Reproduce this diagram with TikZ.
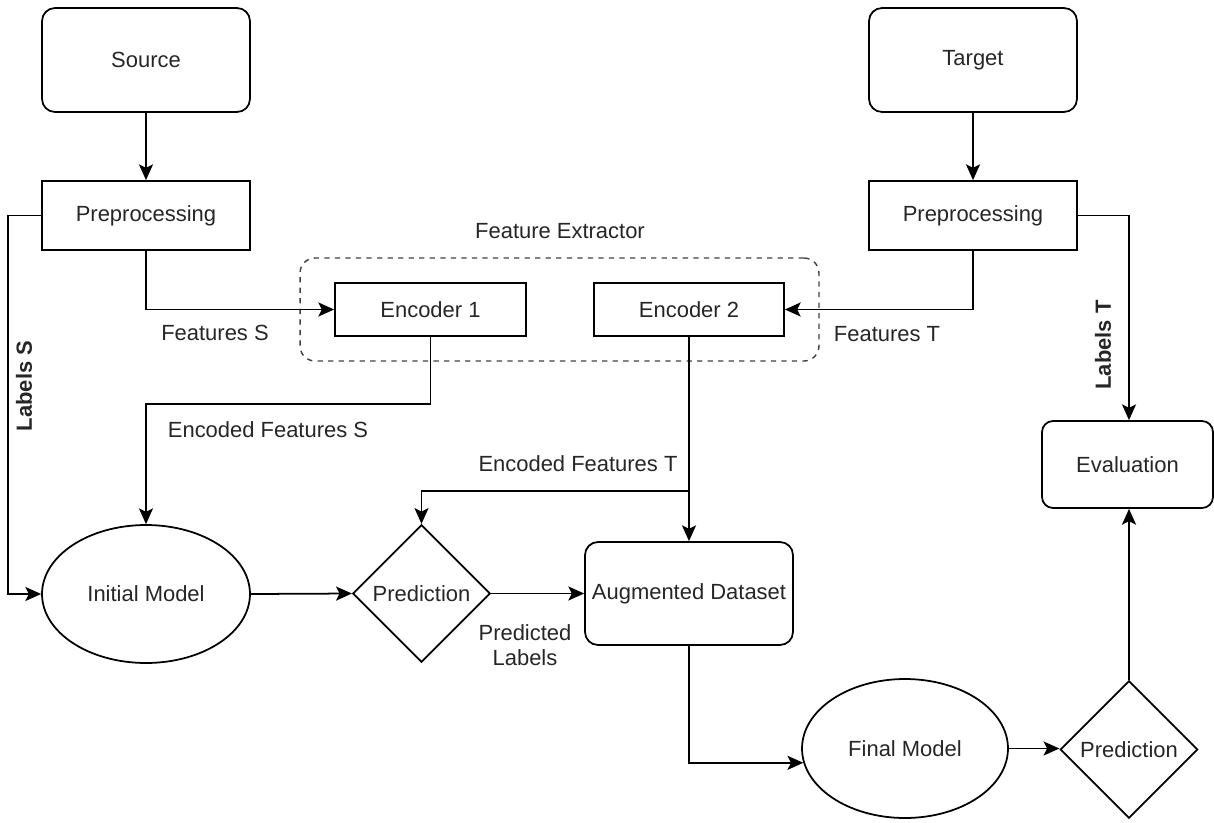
\documentclass[tikz,border=0pt]{standalone}
\usepackage{fontspec}
\setmainfont{Liberation Sans}
\usetikzlibrary{arrows.meta,shapes.geometric,calc}
\begin{document}
\begin{tikzpicture}[x=0.02cm,y=-0.02cm,
  every node/.style={font=\fontsize{12.5pt}{15pt}\selectfont, text=black!85, inner sep=1pt},
  rbox/.style={draw, line width=1pt, rounded corners=0.26cm, align=center},
  sbox/.style={draw, line width=1pt, align=center},
  ellnode/.style={draw, ellipse, line width=1pt, inner sep=0pt},
  dia/.style={draw, diamond, line width=1pt, inner sep=0pt, minimum width=2.75cm, minimum height=2.75cm},
  conn/.style={line width=1pt, -{Stealth[length=9pt,width=8pt,inset=2pt]}},
  lbl/.style={align=center},
  blbl/.style={font=\fontsize{12.5pt}{15pt}\selectfont\bfseries}
]
\useasboundingbox (0,0) rectangle (1214,822);

% nodes
\node[rbox, minimum width=4.16cm, minimum height=2.08cm] (src) at (146,60) {Source};
\node[rbox, minimum width=4.16cm, minimum height=2.08cm] (tgt) at (973,60) {Target};
\node[sbox, minimum width=4.16cm, minimum height=1.38cm] (preS) at (146,215.5) {Preprocessing};
\node[sbox, minimum width=4.16cm, minimum height=1.38cm] (preT) at (973,215.5) {Preprocessing};

\node[draw, dashed, line width=0.8pt, black!75, rounded corners=0.3cm, minimum width=10.38cm, minimum height=2.06cm] (fe) at (559.5,309.5) {};
\node[lbl] (feL) at (560,231) {Feature Extractor};
\node[sbox, minimum width=3.82cm, minimum height=1.06cm] (enc1) at (430.5,309.5) {Encoder 1};
\node[sbox, minimum width=3.80cm, minimum height=1.06cm] (enc2) at (689,309.5) {Encoder 2};

\node[ellnode, minimum width=4.16cm, minimum height=2.76cm] (init) at (146,594) {Initial Model};
\node[dia] (pred1) at (421.5,593.5) {Prediction};
\node[rbox, minimum width=4.16cm, minimum height=2.06cm] (aug) at (689,593.5) {Augmented Dataset};
\node[ellnode, minimum width=4.12cm, minimum height=2.78cm] (fin) at (905,748.5) {Final Model};
\node[dia] (pred2) at (1129,749.5) {Prediction};
\node[rbox, minimum width=3.42cm, minimum height=1.74cm, rounded corners=0.22cm] (eval) at (1127.5,464.5) {Evaluation};

% labels
\node[lbl] (fS) at (215,333) {Features S};
\node[lbl] (fT) at (887,334) {Features T};
\node[blbl, rotate=90] (lS) at (24,386) {Labels S};
\node[blbl, rotate=90] (lT) at (1103,345) {Labels T};
\node[lbl] (efS) at (268,430) {Encoded Features S};
\node[lbl] (efT) at (578,464) {Encoded Features T};
\node[lbl, font=\fontsize{12.5pt}{14.3pt}\selectfont] (pl) at (525,645) {Predicted\\Labels};

% helper coordinates
\coordinate (ls) at (8,215.5);
\coordinate (lt) at (1129,215.5);
\coordinate (e1b) at (430.5,404);
\coordinate (br) at (689,491);

% connectors
\draw[conn] (src) -- (preS);
\draw[conn] (tgt) -- (preT);
\draw[conn] (preS.south) |- (enc1.west);
\draw[conn] (preT.south) |- (enc2.east);
\draw[conn] (preS.west) -- (ls) |- (init.west);
\draw[conn] (preT.east) -- (lt) -- (lt |- eval.north);
\draw[conn] (enc1.south) -- (e1b) -| (init.north);
\draw[conn] (enc2.south) -- (aug.north);
\draw[conn] (br) -| (pred1.north);
\draw[conn] (init.east) -- (pred1.west);
\draw[conn] (pred1.east) -- (aug.west);
\draw[conn] (aug.south) |- (fin.188);
\draw[conn] (fin.east) -- (fin.east -| pred2.west);
\draw[conn] (pred2.north) -- (pred2.north |- eval.south);
\end{tikzpicture}
\end{document}
